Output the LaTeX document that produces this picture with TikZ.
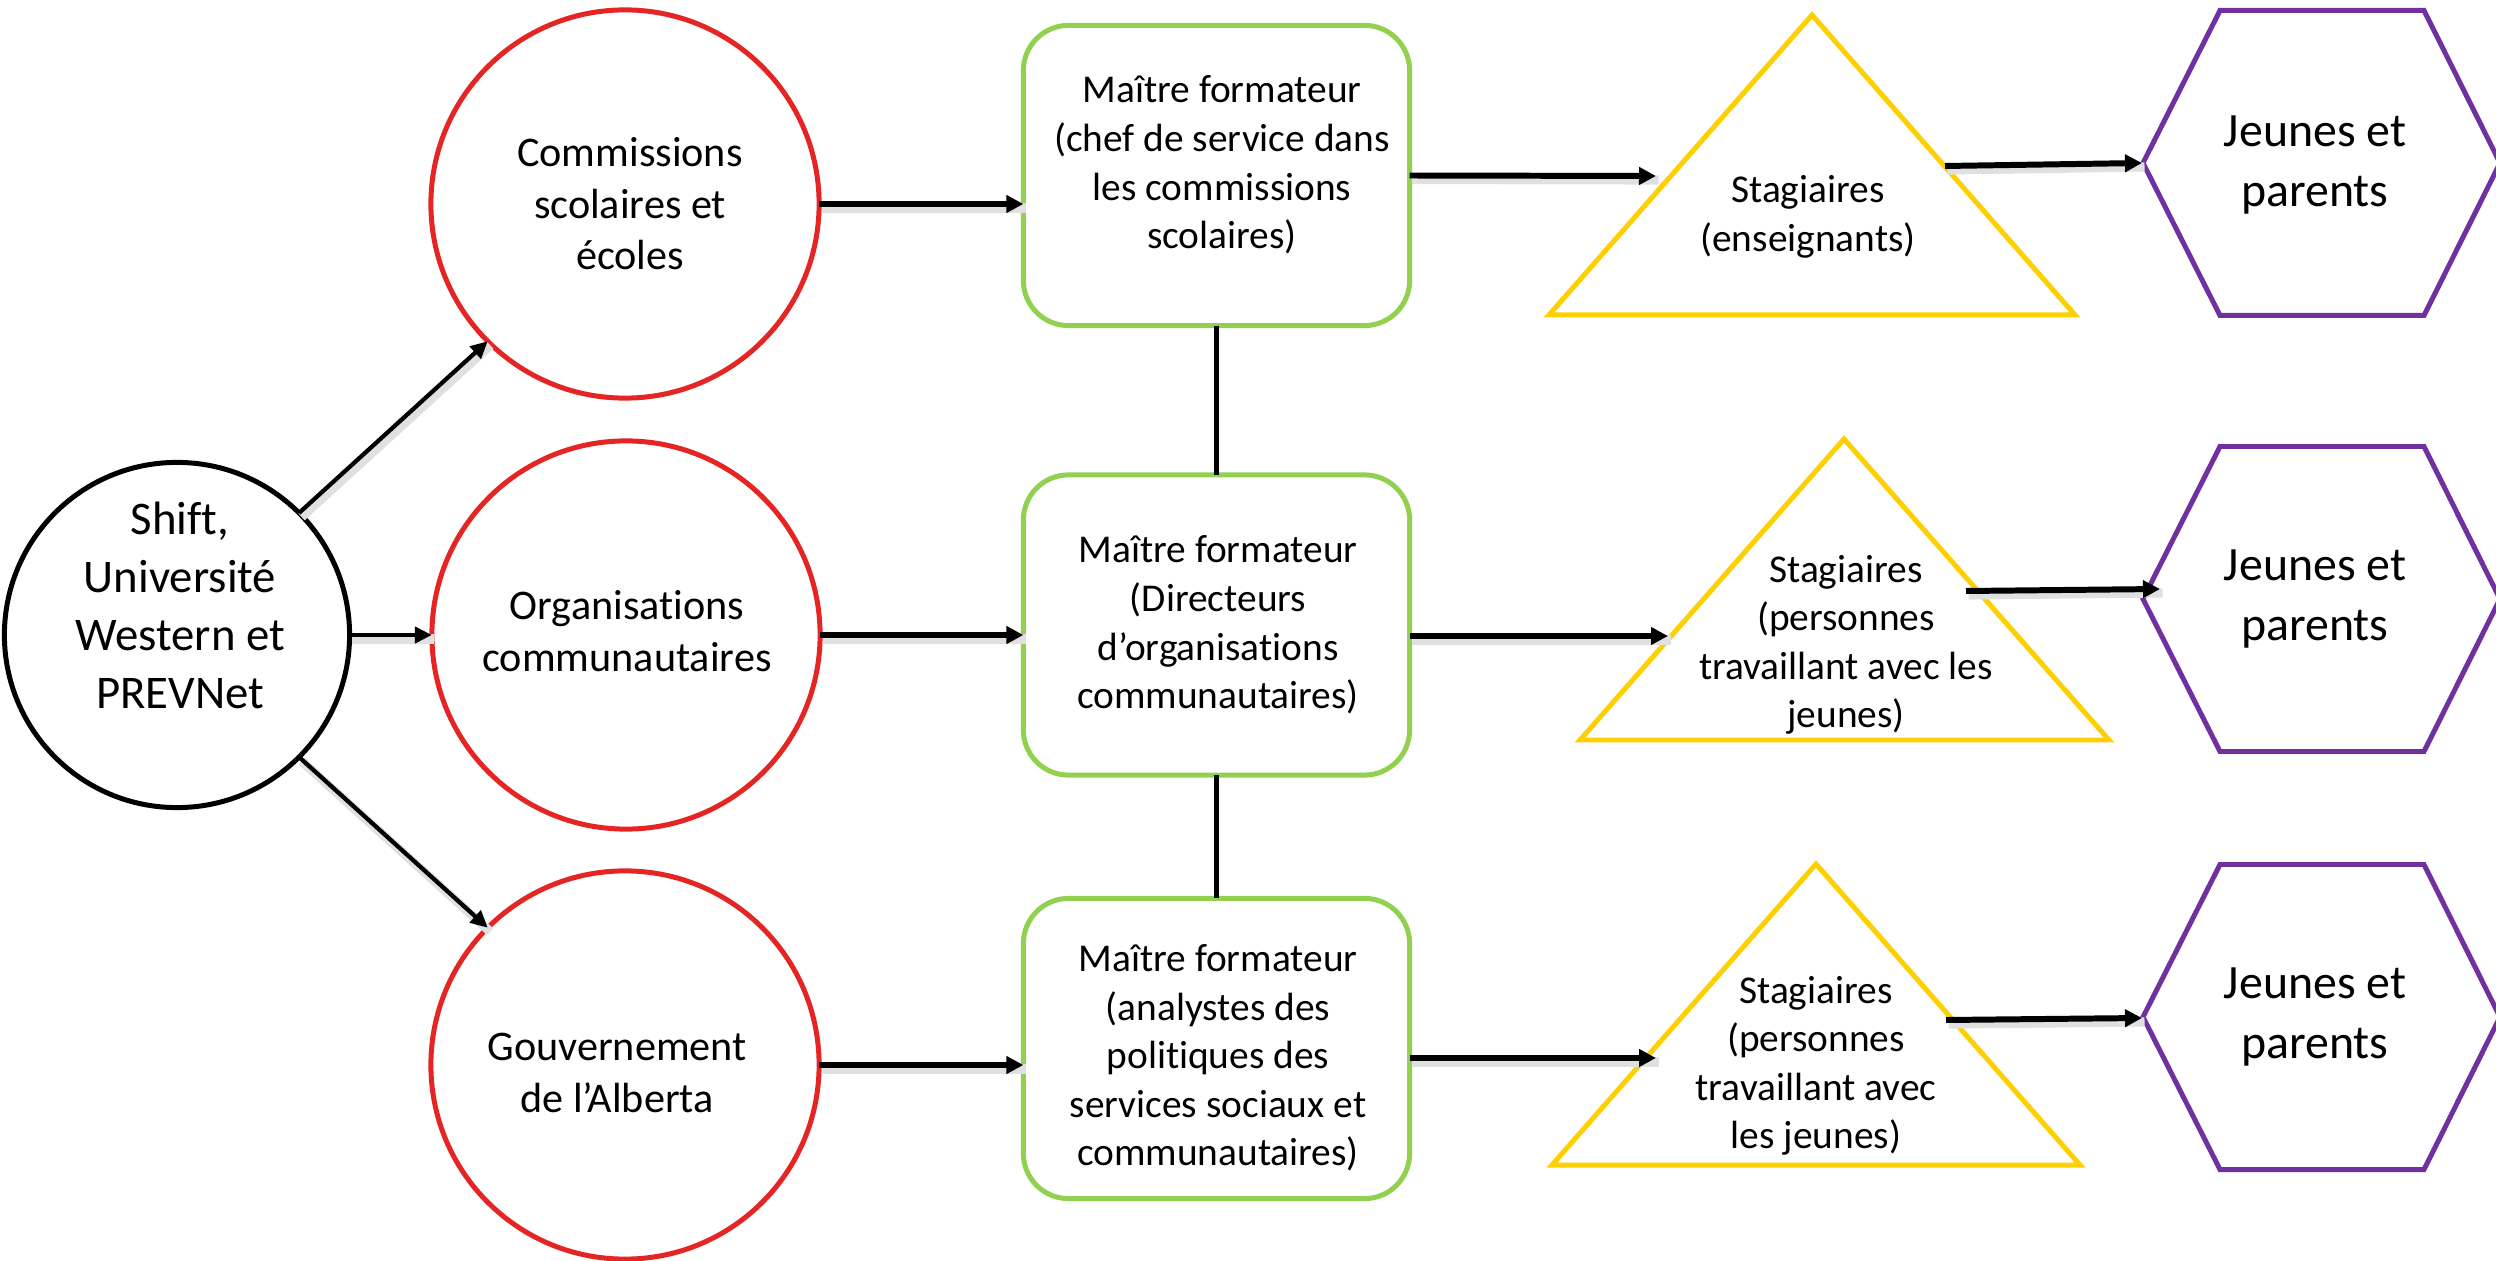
\documentclass[tikz,border=0pt]{standalone}
\usepackage{fontspec}
\setmainfont{Carlito}[Ligatures={NoCommon}]
\usetikzlibrary{arrows.meta}
\definecolor{cred}{RGB}{228,37,36}
\definecolor{cgreen}{RGB}{146,208,80}
\definecolor{cyel}{RGB}{255,208,0}
\definecolor{cpur}{RGB}{112,48,160}
\begin{document}
\begin{tikzpicture}[x=0.01cm,y=-0.01cm,
  every node/.style={inner sep=0pt, outer sep=0pt},
  blackcirc/.style={circle, draw=black, line width=1.42pt, minimum size=3.45cm},
  redcirc/.style={circle, draw=cred, line width=1.42pt, minimum size=3.88cm},
  greenbox/.style={rectangle, rounded corners=0.45cm, draw=cgreen, line width=1.42pt, minimum width=3.86cm, minimum height=3.0cm},
  tri/.style={draw=cyel, line width=1.42pt},
  hexa/.style={draw=cpur, line width=1.42pt},
  txtA/.style={align=center, font=\fontsize{13.3}{16.5}\selectfont},
  txtR/.style={align=center, font=\fontsize{12}{14.65}\selectfont},
  txtG/.style={align=center, font=\fontsize{11.2}{13.8}\selectfont},
  txtH/.style={align=center, font=\fontsize{13.6}{17}\selectfont},
  shadowed/.style={preaction={draw=black!12, line width=2.6pt, arrows=-, transform canvas={shift={(0.025cm,-0.04cm)}}}},
  thickarrow/.style={shadowed, line width=1.7pt, -{Triangle[length=0.17cm,width=0.17cm]}},
  thinarrow/.style={shadowed, line width=1.2pt, -{Triangle[length=0.17cm,width=0.16cm]}},
  link/.style={line width=1.15pt},
]
\fill[white] (0,0) rectangle (2496,1261);
\useasboundingbox (0,0) rectangle (2496,1261);

% source
\node[blackcirc] (src) at (177,635) {};
\node[txtA] (srct) at (180,605) {Shift,\\Université\\Western et\\PREVNet};

% red circles
\node[redcirc] (r1) at (625,204) {};
\node[txtR] (r1t) at (630,204) {Commissions\\scolaires et\\écoles};
\node[redcirc] (r2) at (626,635) {};
\node[txtR] (r2t) at (627,631) {Organisations\\communautaires};
\node[redcirc] (r3) at (625,1065) {};
\node[txtR] (r3t) at (617,1073) {Gouvernement\\de l’Alberta};

% green boxes
\node[greenbox] (g1) at (1216.5,175.5) {};
\node[txtG] (g1t) at (1222,165) {Maître formateur\\(chef de service dans\\les commissions\\scolaires)};
\node[greenbox] (g2) at (1216.5,625) {};
\node[txtG] (g2t) at (1218,625) {Maître formateur\\(Directeurs\\d’organisations\\communautaires)};
\node[greenbox] (g3) at (1216.5,1048.5) {};
\node[txtG] (g3t) at (1218,1058) {Maître formateur\\(analystes des\\politiques des\\services sociaux et\\communautaires)};

% triangles
\draw[tri] (1549,315) -- (1812,15) -- (2075,315) -- cycle;
\node[txtG] (t1t) at (1808,217) {Stagiaires\\(enseignants)};
\draw[tri] (1580,740) -- (1844,439) -- (2109,740) -- cycle;
\node[txtG] (t2t) at (1846,645) {Stagiaires\\(personnes\\travaillant avec les\\jeunes)};
\draw[tri] (1552,1165) -- (1816,864) -- (2080,1165) -- cycle;
\node[txtG] (t3t) at (1816,1066) {Stagiaires\\(personnes\\travaillant avec\\les jeunes)};

% hexagons
\draw[hexa] (2143,163) -- (2220,10.5) -- (2424,10.5) -- (2500,163) -- (2424,315.5) -- (2220,315.5) -- cycle;
\node[txtH] (h1t) at (2315,165) {Jeunes et\\parents};
\draw[hexa] (2143,599) -- (2220,446.5) -- (2424,446.5) -- (2500,599) -- (2424,751.5) -- (2220,751.5) -- cycle;
\node[txtH] (h2t) at (2315,599) {Jeunes et\\parents};
\draw[hexa] (2143,1017) -- (2220,864.5) -- (2424,864.5) -- (2500,1017) -- (2424,1169.5) -- (2220,1169.5) -- cycle;
\node[txtH] (h3t) at (2315,1017) {Jeunes et\\parents};

% connector end points
\coordinate (t1in) at (1656,176);
\coordinate (t2in) at (1668,636);
\coordinate (t3in) at (1656,1058);
\coordinate (t1out) at (1945,166);
\coordinate (t2out) at (1966,591);
\coordinate (t3out) at (1946,1020);
\coordinate (h1in) at (2142,163);
\coordinate (h2in) at (2160,589);
\coordinate (h3in) at (2142,1018);

% connectors
\draw[link] (g1.south) -- (g2.north);
\draw[link] (g2.south) -- (g3.north);

\draw[thinarrow] (src.45) -- (r1.225);
\draw[thinarrow] (src.east) -- (r2.west);
\draw[thinarrow] (src.-45) -- (r3.135);

\draw[thickarrow] (r1.east) -- (r1.east -| g1.west);
\draw[thickarrow] (r2.east) -- (r2.east -| g2.west);
\draw[thickarrow] (r3.east) -- (r3.east -| g3.west);

\draw[thickarrow] (g1.east) -- (t1in);
\draw[thickarrow] (g2.east |- t2in) -- (t2in);
\draw[thickarrow] (g3.east |- t3in) -- (t3in);

\draw[thickarrow] (t1out) -- (h1in);
\draw[thickarrow] (t2out) -- (h2in);
\draw[thickarrow] (t3out) -- (h3in);
\end{tikzpicture}
\end{document}
